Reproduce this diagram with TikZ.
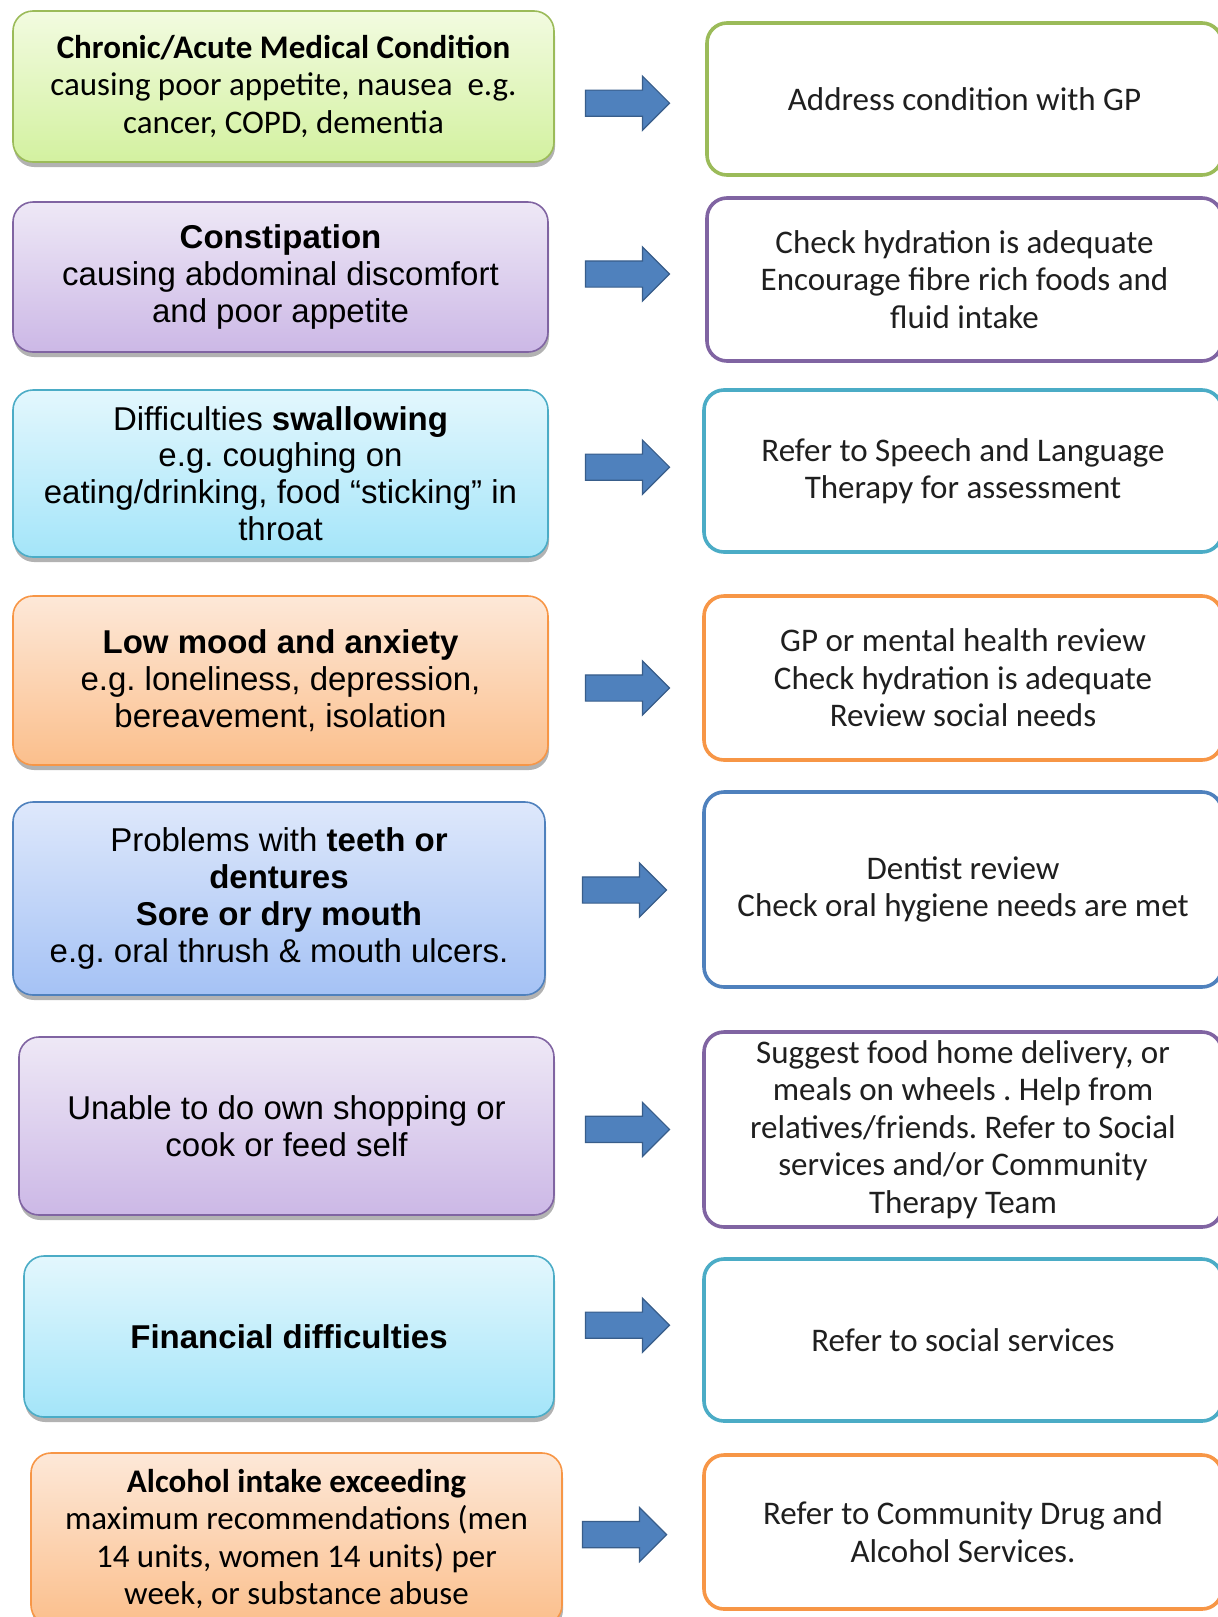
\documentclass[tikz,border=0pt]{standalone}
\usepackage{fontspec}
\setmainfont{Carlito}
\newfontfamily\arialfont{Liberation Sans}
\usepackage{xcolor}
\usepackage{tikz}
\usetikzlibrary{positioning, shapes.arrows, shadows}
\definecolor{grnline}{HTML}{9BBB59}
\definecolor{grntop}{HTML}{F2FBE0}
\definecolor{grnbot}{HTML}{D3F1A0}
\definecolor{purline}{HTML}{8064A2}
\definecolor{purtop}{HTML}{EEE8F6}
\definecolor{purbot}{HTML}{CCB8E6}
\definecolor{cynline}{HTML}{4BACC6}
\definecolor{cyntop}{HTML}{E3F7FD}
\definecolor{cynbot}{HTML}{A4E5F9}
\definecolor{orgline}{HTML}{F79646}
\definecolor{orgtop}{HTML}{FDE8D8}
\definecolor{orgbot}{HTML}{FBBF8C}
\definecolor{bluline}{HTML}{4F81BD}
\definecolor{blutop}{HTML}{DEE8FB}
\definecolor{blubot}{HTML}{A5C2F5}
\definecolor{arrowfill}{HTML}{4F81BD}
\definecolor{arrowline}{HTML}{385D8A}
\frenchspacing

\begin{document}
\begin{tikzpicture}[x=1pt, y=-1pt,
  cause/.style={rounded corners=10pt, line width=0.8pt, inner sep=2pt, align=center,
    text=black, font=\fontsize{16.5}{18.6}\selectfont,
    drop shadow={shadow xshift=0.5pt, shadow yshift=-2.5pt, opacity=0.3, fill=black}},
  grnbox/.style={draw=grnline, top color=grntop, bottom color=grnbot},
  purbox/.style={draw=purline, top color=purtop, bottom color=purbot},
  cynbox/.style={draw=cynline, top color=cyntop, bottom color=cynbot},
  orgbox/.style={draw=orgline, top color=orgtop, bottom color=orgbot},
  blubox/.style={draw=bluline, top color=blutop, bottom color=blubot},
  action/.style={rounded corners=10pt, line width=1.8pt, fill=white, inner sep=2pt,
    align=center, text=black!88, font=\fontsize{16.5}{18.8}\selectfont},
  blockarrow/.style={single arrow, draw=arrowline, fill=arrowfill, line width=0.6pt,
    inner xsep=0pt, inner ysep=6.25pt, minimum height=42pt, minimum width=27pt,
    single arrow head extend=7pt, single arrow tip angle=90}]
  \useasboundingbox (0,0) rectangle (609,808.5);
  \clip (0,0) rectangle (609,808.5);

  % left column: causes
  \node[cause, grnbox, minimum width=270.5pt, minimum height=75.5pt] (chronic) at (141.75,43.25)
    {\textbf{Chronic/Acute Medical Condition}\\ causing poor appetite, nausea~ e.g.\\ cancer, COPD, dementia};
  \node[cause, purbox, minimum width=267.5pt, minimum height=75pt, font=\arialfont\fontsize{16.5}{18.4}\selectfont] (constip) at (140.25,138.5)
    {\textbf{Constipation}\\ causing abdominal discomfort\\ and poor appetite};
  \node[cause, cynbox, minimum width=267.5pt, minimum height=83.5pt, font=\arialfont\fontsize{16.5}{18.4}\selectfont] (swallow) at (140.25,236.75)
    {Difficulties \textbf{swallowing}\\ e.g. coughing on\\ eating/drinking, food “sticking” in\\ throat};
  \node[cause, orgbox, minimum width=267.5pt, minimum height=84.5pt, font=\arialfont\fontsize{16.5}{18.4}\selectfont] (mood) at (140.25,340.25)
    {\textbf{Low mood and anxiety}\\ e.g. loneliness, depression,\\ bereavement, isolation};
  \node[cause, blubox, minimum width=266pt, minimum height=96.5pt, font=\arialfont\fontsize{16.5}{18.4}\selectfont] (teeth) at (139.5,449.25)
    {Problems with \textbf{teeth or}\\ \textbf{dentures}\\ \textbf{Sore or dry mouth}\\ e.g. oral thrush \& mouth ulcers.};
  \node[cause, purbox, minimum width=267.5pt, minimum height=89pt, font=\arialfont\fontsize{16.5}{18.4}\selectfont] (shopping) at (143.25,563)
    {Unable to do own shopping or\\ cook or feed self};
  \node[cause, cynbox, minimum width=265pt, minimum height=80.5pt, font=\arialfont\fontsize{16.5}{18.4}\selectfont] (finance) at (144.5,668.25)
    {\textbf{Financial difficulties}};
  \node[cause, orgbox, minimum width=265.5pt, minimum height=86pt] (alcohol) at (148.25,769.5)
    {\textbf{Alcohol intake exceeding}\\ maximum recommendations (men\\ 14 units, women 14 units) per\\ week, or substance abuse};

  % right column: actions
  \node[action, draw=grnline, minimum width=257.5pt, minimum height=76pt] (gp) at (482.25,49.5)
    {Address condition with GP};
  \node[action, draw=purline, minimum width=257.5pt, minimum height=81.5pt] (hydrate) at (482.25,139.75)
    {Check hydration is adequate\\ Encourage fibre rich foods and\\ fluid intake};
  \node[action, draw=cynline, minimum width=259pt, minimum height=81pt] (salt) at (481.5,235.5)
    {Refer to Speech and Language\\ Therapy for assessment};
  \node[action, draw=orgline, minimum width=259pt, minimum height=82pt] (mental) at (481.5,339)
    {GP or mental health review\\ Check hydration is adequate\\ Review social needs};
  \node[action, draw=bluline, minimum width=259pt, minimum height=97.5pt] (dentist) at (481.5,444.75)
    {Dentist review\\ Check oral hygiene needs are met};
  \node[action, draw=purline, minimum width=259pt, minimum height=97.5pt] (meals) at (481.5,564.75)
    {Suggest food home delivery, or\\ meals on wheels . Help from\\ relatives/friends. Refer to Social\\ services and/or Community\\ Therapy Team};
  \node[action, draw=cynline, minimum width=259pt, minimum height=81pt] (social) at (481.5,670)
    {Refer to social services};
  \node[action, draw=orgline, minimum width=259pt, minimum height=77pt] (drug) at (481.5,766)
    {Refer to Community Drug and\\ Alcohol Services.};

  % block arrows
  \node[blockarrow] (arr1) at (310.5,51.6) {};
  \node[blockarrow] (arr2) at (310.5,137) {};
  \node[blockarrow] (arr3) at (310.5,233.6) {};
  \node[blockarrow] (arr4) at (310.5,344) {};
  \node[blockarrow] (arr5) at (309,445) {};
  \node[blockarrow] (arr6) at (310.5,564.7) {};
  \node[blockarrow] (arr7) at (310.5,662.6) {};
  \node[blockarrow] (arr8) at (309,767.3) {};
\end{tikzpicture}
\end{document}
